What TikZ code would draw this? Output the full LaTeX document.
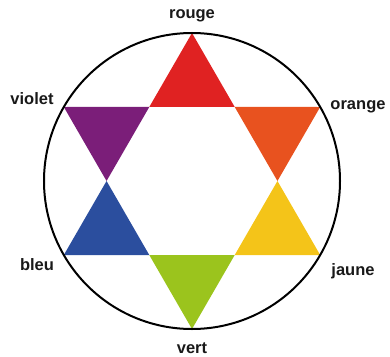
\documentclass[tikz,border=0pt]{standalone}
\usepackage{fontspec}
\setmainfont{Liberation Sans}
\usepackage{xcolor}
\usepackage{tikz}

\definecolor{rouge}{HTML}{E02222}
\definecolor{orange}{HTML}{E8521F}
\definecolor{jaune}{HTML}{F4C419}
\definecolor{vert}{HTML}{9BC41D}
\definecolor{bleu}{HTML}{2B4E9E}
\definecolor{violet}{HTML}{7B1E79}

\tikzset{
  colname/.style={font=\fontsize{16.5}{18}\selectfont\bfseries, text=black!90},
}

\begin{document}
\begin{tikzpicture}[x=1pt, y=1pt]
  \useasboundingbox (-192,-175) rectangle (198,181);

  % the six points of the star
  \foreach \ang/\col in {90/rouge, 30/orange, -30/jaune, -90/vert, -150/bleu, 150/violet}
    \fill[\col] (\ang:148) -- (\ang-30:85.45) -- (\ang+30:85.45) -- cycle;

  % colour wheel
  \draw[line width=2pt] (0,0) circle (148);

  % colour names
  \node[colname] (nrouge) at (0,165) {rouge};
  \node[colname] (norange) at (166,74) {orange};
  \node[colname] (njaune) at (161,-90) {jaune};
  \node[colname] (nvert) at (0,-167) {vert};
  \node[colname] (nbleu) at (-155,-84) {bleu};
  \node[colname] (nviolet) at (-160,82) {violet};
\end{tikzpicture}
\end{document}
